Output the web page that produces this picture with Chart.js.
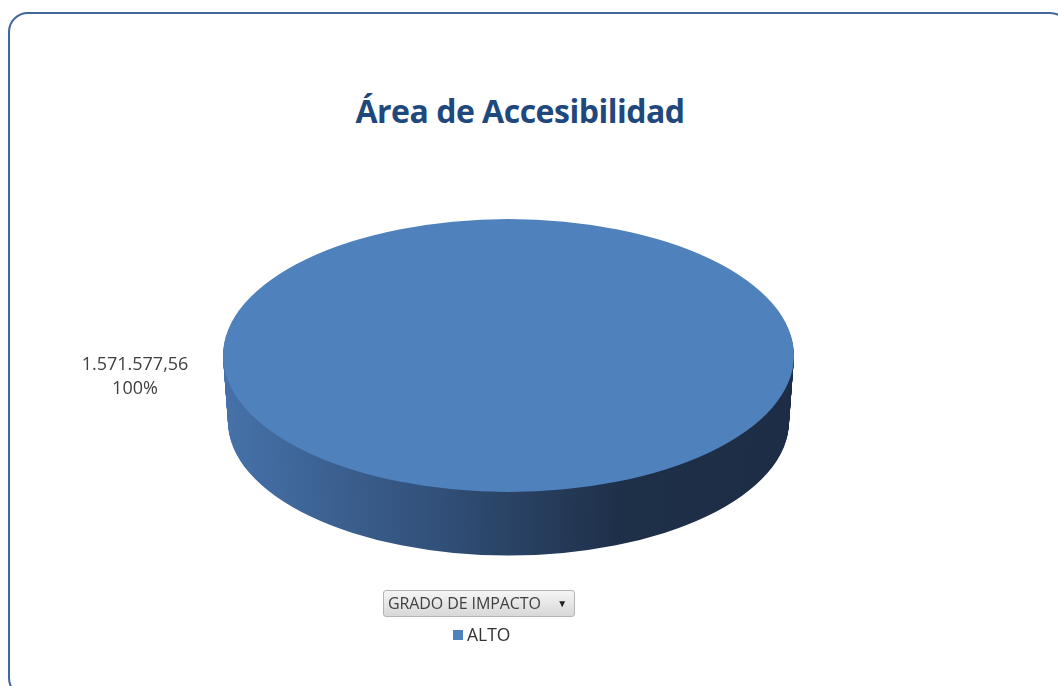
<!DOCTYPE html>
<html>
<head>
<meta charset="utf-8">
<script src="https://cdn.jsdelivr.net/npm/chart.js@4"></script>
<style>
body{margin:0;background:#fff;overflow:hidden;font-family:"Open Sans",sans-serif}
#wrap{position:relative;width:1058px;height:686px;overflow:hidden}
#frame{position:absolute;left:8px;top:12px;width:1062px;height:686px;border:2px solid #41679c;border-radius:20px;box-sizing:border-box}
#title{position:absolute;left:0;width:1040px;top:89px;text-align:center;font-weight:bold;font-size:32px;color:#1f497d;letter-spacing:-0.5px}
#btn{position:absolute;left:383px;top:590px;width:192px;height:27px;box-sizing:border-box;border:1px solid #b4b4b4;border-radius:3px;background:linear-gradient(#f5f5f5,#d8d8d8);font-size:16px;color:#404040;line-height:25px;padding-left:4px;letter-spacing:-0.1px}
#btn span{position:absolute;right:7px;top:0;font-size:10px;color:#222}
canvas{position:absolute;left:0;top:0}
</style>
</head>
<body>
<div id="wrap">
  <div id="frame"></div>
  <div id="title">Área de Accesibilidad</div>
  <canvas id="c" width="1058" height="686"></canvas>
  <div id="btn">GRADO DE IMPACTO<span>&#9660;</span></div>
</div>
<script>
const categories=['ALTO'];
const values=[1571577.56];
const colors=['#4f81bd'];

const TOP_Y=355.5, TILT=0.478, DEPTH=66, SHRINK=5;

function fmtNum(v){
  let [i,d]=v.toFixed(2).split('.');
  i=i.replace(/\B(?=(\d{3})+(?!\d))/g,'.');
  return i+','+d;
}

const pie3d={
  id:'pie3d',
  beforeDatasetsDraw(chart){
    const ctx=chart.ctx, arc=chart.getDatasetMeta(0).data[0];
    const cx=arc.x, cy=arc.y, r=arc.outerRadius;
    const g=ctx.createLinearGradient(cx-r,0,cx+r,0);
    g.addColorStop(0,'#4672a9');
    g.addColorStop(0.35,'#33527c');
    g.addColorStop(0.7,'#1e2f48');
    g.addColorStop(1,'#1d2d46');
    const o=arc.options;
    arc.options=Object.assign({},o,{backgroundColor:g,borderWidth:0});
    // side of the pie
    for(let d=DEPTH;d>0;d--){
      const sx=(r-SHRINK*d/DEPTH)/r;
      ctx.save();
      ctx.translate(cx,TOP_Y+d);
      ctx.scale(sx,TILT*sx);
      ctx.translate(-cx,-cy);
      arc.draw(ctx);
      ctx.restore();
    }
    arc.options=o;
    ctx.save();
    ctx.translate(cx,TOP_Y);
    ctx.scale(1,TILT);
    ctx.translate(-cx,-cy);
  },
  afterDatasetsDraw(chart){
    const ctx=chart.ctx;
    ctx.restore();
    const arc=chart.getDatasetMeta(0).data[0];
    const total=values.reduce((a,b)=>a+b,0);
    ctx.save();
    ctx.fillStyle='#404040';
    ctx.font='18px "Open Sans", sans-serif';
    ctx.textAlign='center';
    ctx.textBaseline='middle';
    const lx=arc.x-arc.outerRadius-88;
    ctx.fillText(fmtNum(values[0]),lx,365);
    ctx.fillText(Math.round(values[0]/total*100)+'%',lx,389);
    // legend
    categories.forEach((c,i)=>{
      ctx.fillStyle=colors[i];
      ctx.fillRect(453,630,10,10);
      ctx.fillStyle='#333';
      ctx.textAlign='left';
      ctx.font='17.5px "Open Sans", sans-serif';
      ctx.fillText(c,467,636);
    });
    ctx.restore();
  }
};

new Chart(document.getElementById('c'),{
  type:'pie',
  data:{labels:categories,datasets:[{data:values,backgroundColor:colors,borderWidth:0}]},
  options:{
    responsive:false,
    animation:false,
    layout:{padding:{left:223,right:264,top:57,bottom:58}},
    plugins:{legend:{display:false},tooltip:{enabled:false}}
  },
  plugins:[pie3d]
});
</script>
</body>
</html>
